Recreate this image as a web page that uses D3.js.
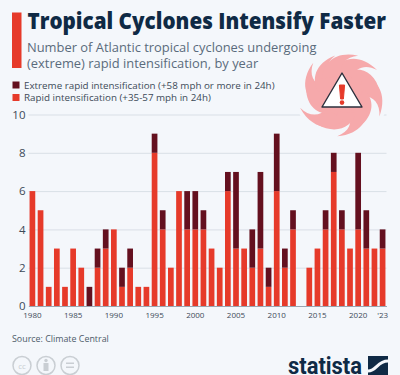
<!DOCTYPE html>
<html>
<head>
<meta charset="utf-8">
<script src="https://cdnjs.cloudflare.com/ajax/libs/d3/7.8.5/d3.min.js"></script>
<style>
  html, body { margin: 0; padding: 0; background: #f4f7fb; overflow: hidden; }
  text { font-family: "Open Sans", sans-serif; }
</style>
</head>
<body>
<svg id="chart" width="400" height="375"></svg>
<script>
const years = d3.range(1980, 2024)
const rapid = [6, 5, 1, 3, 1, 3, 2, 0, 2, 3, 4, 1, 2, 1, 1, 8, 4, 2, 6, 4, 4, 4, 3, 2, 6, 3, 3, 2, 3, 1, 6, 2, 4, 0, 2, 3, 4, 7, 4, 3, 4, 3, 3, 3]
const extreme = [0, 0, 0, 0, 0, 0, 0, 1, 1, 1, 0, 1, 1, 0, 0, 1, 1, 0, 0, 2, 2, 1, 0, 0, 1, 4, 0, 2, 4, 1, 3, 1, 1, 0, 0, 0, 1, 1, 1, 0, 4, 2, 0, 1]
const yTicks = [0, 2, 4, 6, 8, 10]
const xTicks = [1980, 1985, 1990, 1995, 2000, 2005, 2010, 2015, 2020, 2023]
const legendLabels = ['Extreme rapid intensification (+58 mph or more in 24h)', 'Rapid intensification (+35-57 mph in 24h)']

const red = '#e63a2a'
const dark = '#64101f'
const navy = '#0f2a45'

const svg = d3.select('#chart')
svg.append('rect').attr('width', 400).attr('height', 375).attr('fill', '#f4f7fb')

const margin = { top: 114.5, right: 13.5, bottom: 69, left: 28.5 }
const width = 400 - margin.left - margin.right
const height = 375 - margin.top - margin.bottom
const g = svg.append('g').attr('transform', 'translate(' + margin.left + ',' + margin.top + ')')

const x = d3.scaleBand().domain(years).range([0, width]).paddingInner(0.3).paddingOuter(0.13)
const y = d3.scaleLinear().domain([0, 10]).range([height, 0])

// y axis with gridlines
const yAxis = g.append('g').call(d3.axisLeft(y).tickValues(yTicks).tickSize(-width).tickPadding(3))
yAxis.select('.domain').remove()
yAxis.selectAll('.tick line').attr('stroke', '#d9dfe6').attr('stroke-width', 1)
yAxis.selectAll('.tick text').attr('font-size', 11.5).attr('fill', '#3c4a58')

// x axis
const xAxis = g.append('g')
  .attr('transform', `translate(0, ${height})`)
  .call(d3.axisBottom(x).tickValues(xTicks).tickSize(0).tickPadding(6)
    .tickFormat((d) => (d === 2023 ? "'23" : d)))
xAxis.select('.domain').attr('stroke', '#9aa5b1').attr('stroke-width', 1)
xAxis.selectAll('.tick text').attr('font-size', 8).attr('fill', '#3c4a58')

// bars
g.append('g').selectAll('rect').data(years).join('rect')
  .attr('x', (d) => x(d))
  .attr('width', x.bandwidth())
  .attr('y', (d, i) => y(rapid[i]))
  .attr('height', (d, i) => height - y(rapid[i]))
  .attr('fill', red)

g.append('g').selectAll('rect').data(years).join('rect')
  .attr('x', (d) => x(d))
  .attr('width', x.bandwidth())
  .attr('y', (d, i) => y(rapid[i] + extreme[i]))
  .attr('height', (d, i) => y(rapid[i]) - y(rapid[i] + extreme[i]))
  .attr('fill', dark)

// cyclone icon, the halo hides the top gridline behind it
const icon = svg.append('g').attr('transform', 'translate(342,94)')
icon.append('circle').attr('r', 47).attr('fill', '#f4f7fb')
icon.append('circle').attr('r', 27).attr('fill', '#f6a9ab')
const armScale = [1, 0.9, 1.03, 0.88, 1, 0.93, 1.04, 0.87, 1, 0.92, 0.98]
armScale.forEach((s, i) => {
  icon.append('path')
    .attr('d', 'M-9,-24 C0,-37 18,-41 35,-24 C24,-30 14,-27 10,-17 Z')
    .attr('transform', `rotate(${(i * 360) / armScale.length}) scale(${s})`)
    .attr('fill', '#f6a9ab')
})
icon.append('path')
  .attr('d', 'M0,-21 L20,13 L-20,13 Z')
  .attr('fill', '#fff')
  .attr('stroke', '#2b2f3c')
  .attr('stroke-width', 1.4)
  .attr('stroke-linejoin', 'round')
icon.append('path').attr('d', 'M-2.6,-9 L2.6,-9 L1.4,5 L-1.4,5 Z').attr('fill', red).attr('stroke', red).attr('stroke-linejoin', 'round')
icon.append('circle').attr('cy', 8.6).attr('r', 2.3).attr('fill', red)

// header
svg.append('rect').attr('x', 12).attr('y', 12.5).attr('width', 9.5).attr('height', 55.5).attr('fill', red)
const title = svg.append('text').attr('font-size', 22.8).attr('font-weight', 800).attr('fill', navy)
  .text('Tropical Cyclones Intensify Faster')
// squeeze the title to the width it has in the original
title.attr('transform', `translate(27.5,29) scale(${358.5 / title.node().getComputedTextLength()},1)`)
svg.append('text').attr('x', 27).attr('y', 52).attr('font-size', 12.9).attr('fill', '#5a6b7c')
  .text('Number of Atlantic tropical cyclones undergoing')
svg.append('text').attr('x', 27).attr('y', 68).attr('font-size', 12.9).attr('fill', '#5a6b7c')
  .text('(extreme) rapid intensification, by year')

// legend
const legend = svg.append('g')
legendLabels.forEach((label, i) => {
  legend.append('rect').attr('x', 12.5).attr('y', 81.5 + i * 12.5).attr('width', 7).attr('height', 7).attr('fill', i === 0 ? dark : red)
  legend.append('text').attr('x', 24).attr('y', 88.5 + i * 12.5).attr('font-size', 9.8).attr('fill', '#3c4a58').text(label)
})

// footer
svg.append('text').attr('x', 12).attr('y', 342).attr('font-size', 8.9).attr('fill', '#4d5b69').text('Source: Climate Central')

const cc = svg.append('g').attr('fill', 'none').attr('stroke', '#c9ced3').attr('stroke-width', 1.5)
;[22, 46, 70].forEach((cx) => cc.append('circle').attr('cx', cx).attr('cy', 365.5).attr('r', 9))
svg.append('text').attr('x', 22).attr('y', 368.5).attr('text-anchor', 'middle').attr('font-size', 8).attr('fill', '#c9ced3').text('cc')
svg.append('circle').attr('cx', 46).attr('cy', 360.5).attr('r', 1.7).attr('fill', '#c9ced3')
svg.append('rect').attr('x', 43.5).attr('y', 363).attr('width', 5).attr('height', 8).attr('fill', '#c9ced3')
svg.append('rect').attr('x', 66).attr('y', 362.5).attr('width', 8).attr('height', 1.5).attr('fill', '#c9ced3')
svg.append('rect').attr('x', 66).attr('y', 366.5).attr('width', 8).attr('height', 1.5).attr('fill', '#c9ced3')

svg.append('text').attr('x', 288).attr('y', 374).attr('font-size', 23).attr('font-weight', 700)
  .attr('fill', navy).style('font-family', 'Roboto, sans-serif')
  .attr('textLength', 74).attr('lengthAdjust', 'spacingAndGlyphs').text('statista')
svg.append('rect').attr('x', 368).attr('y', 356).attr('width', 20).attr('height', 19).attr('fill', navy)
svg.append('path').attr('d', 'M368,371 C377,371 377,361 388,361').attr('fill', 'none').attr('stroke', '#f4f7fb').attr('stroke-width', 3)
</script>
</body>
</html>
